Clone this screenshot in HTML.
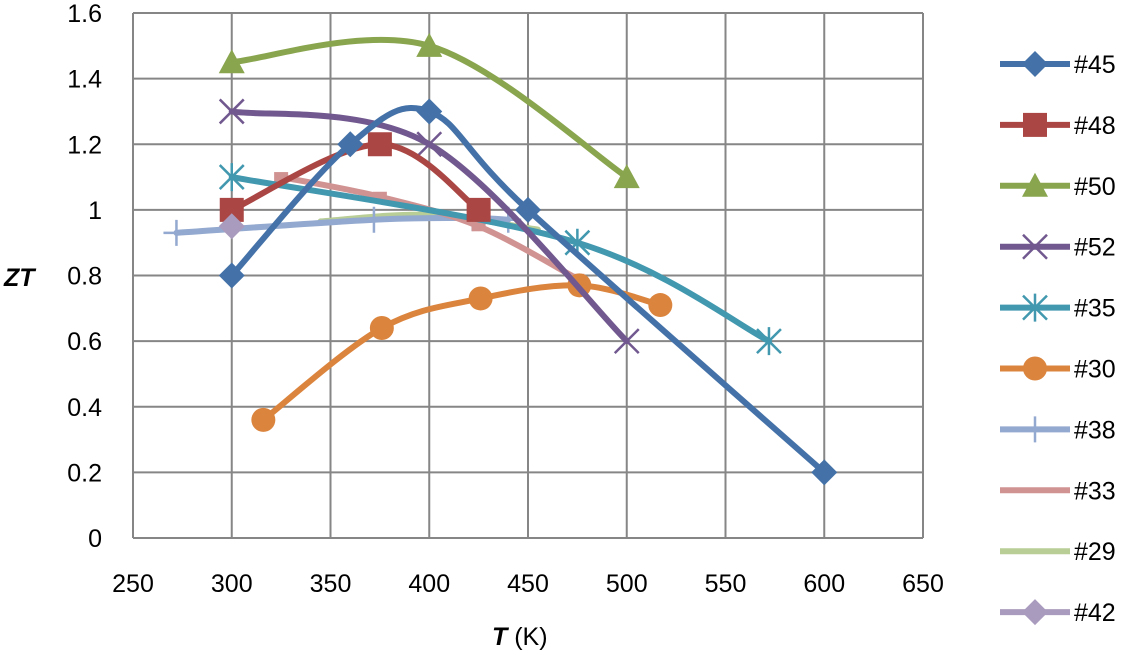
<!DOCTYPE html>
<html><head><meta charset="utf-8"><style>
body{margin:0;background:#fff;width:1127px;height:658px;overflow:hidden}
svg text{font-family:"Liberation Sans",sans-serif;font-size:25px;fill:#000}
</style></head><body>
<svg id="c" width="1127" height="658"></svg>
<script>
const xTicks=[250,300,350,400,450,500,550,600,650];
const yTicks=[0,0.2,0.4,0.6,0.8,1,1.2,1.4,1.6];
const names=["#45","#48","#50","#52","#35","#30","#38","#33","#29","#42"];
const colors=["#4472a8","#aa4643","#89a54e","#71588f","#4198af","#db843d","#93a9cf","#d19392","#b9cd96","#a99bbd"];
const markers=["diamond","square","triangle","x","star","circle","plus","smallsq","none","diamond"];
const t45=[300,360,400,450,600], z45=[0.8,1.2,1.3,1.0,0.2];
const t48=[300,375,425], z48=[1.0,1.2,1.0];
const t50=[300,400,500], z50=[1.45,1.5,1.1];
const t52=[300,400,500], z52=[1.3,1.2,0.6];
const t35=[300,475,572], z35=[1.1,0.9,0.6];
const t30=[316,376,426,476,517], z30=[0.36,0.64,0.73,0.77,0.71];
const t38=[272,372,422,440], z38=[0.93,0.97,0.975,0.97];
const t33=[325,375,425,475], z33=[1.1,1.04,0.95,0.79];
const t29=[345,400,455], z29=[0.965,0.985,0.94];
const t42=[300], z42=[0.95];
const TS=[t45,t48,t50,t52,t35,t30,t38,t33,t29,t42], ZS=[z45,z48,z50,z52,z35,z30,z38,z33,z29,z42];
const X0=133,X1=923,Y0=538,Y1=13;
const xs=v=>X0+(v-250)/400*(X1-X0), ys=v=>Y0-v/1.6*(Y0-Y1);
const svg=document.getElementById('c'),NS='http://www.w3.org/2000/svg';
function mk(tag,a,p){const e=document.createElementNS(NS,tag);for(const k in a)e.setAttribute(k,a[k]);(p||svg).appendChild(e);return e;}
xTicks.forEach(v=>{const l=mk('line',{x1:xs(v),x2:xs(v),y1:Y1,y2:Y0,stroke:'#868686','stroke-width':2});

const t=mk('text',{x:xs(v),y:592,'text-anchor':'middle'});t.textContent=v;
});
yTicks.forEach(v=>{const l=mk('line',{x1:X0,x2:X1,y1:ys(v),y2:ys(v),stroke:'#868686','stroke-width':2});

const t=mk('text',{x:102,y:ys(v)+9,'text-anchor':'end'});t.textContent=(v===0||v===1)?v:v.toFixed(1);
});
function path(P){if(P.length<2)return'';let d=`M${P[0][0]},${P[0][1]}`;for(let i=0;i<P.length-1;i++){const p0=P[i-1]||P[i],p1=P[i],p2=P[i+1],p3=P[i+2]||p2;
d+=` C${p1[0]+(p2[0]-p0[0])/6},${p1[1]+(p2[1]-p0[1])/6} ${p2[0]-(p3[0]-p1[0])/6},${p2[1]-(p3[1]-p1[1])/6} ${p2[0]},${p2[1]}`;}return d;}
function marker(type,x,y,c,g){
if(type==='diamond')return mk('polygon',{points:`${x},${y-13} ${x+13},${y} ${x},${y+13} ${x-13},${y}`,fill:c},g);
if(type==='square')return mk('rect',{x:x-12,y:y-12,width:24,height:24,fill:c},g);
if(type==='smallsq')return mk('rect',{x:x-7,y:y-5,width:14,height:10,fill:c},g);
if(type==='triangle')return mk('polygon',{points:`${x},${y-13} ${x+13},${y+11} ${x-13},${y+11}`,fill:c},g);
if(type==='circle')return mk('circle',{cx:x,cy:y,r:12,fill:c},g);
if(type==='x')return mk('path',{d:`M${x-12},${y-12}L${x+12},${y+12}M${x+12},${y-12}L${x-12},${y+12}`,stroke:c,'stroke-width':2.5},g);
if(type==='plus')return mk('path',{d:`M${x-13},${y}L${x+13},${y}M${x},${y-13}L${x},${y+13}`,stroke:c,'stroke-width':2.5},g);
if(type==='star')return mk('path',{d:`M${x-12},${y-12}L${x+12},${y+12}M${x+12},${y-12}L${x-12},${y+12}M${x},${y-14}L${x},${y+14}`,stroke:c,'stroke-width':2.5},g);}
const order=[8,6,7,5,4,3,1,0,2,9];
order.forEach(i=>{const g=mk('g',{});
const P=TS[i].map((t,j)=>[xs(t),ys(ZS[i][j])]);
const p=mk('path',{d:path(P),fill:'none',stroke:colors[i],'stroke-width':6,'stroke-linecap':'round'},g);

if(markers[i]!=='none')P.forEach(q=>{const m=marker(markers[i],q[0],q[1],colors[i],g);});});
names.forEach((n,i)=>{const y=64+i*60.9;const g=mk('g',{});
mk('line',{x1:1000,x2:1070,y1:y,y2:y,stroke:colors[i],'stroke-width':6},g);
if(markers[i]!=='none'&&markers[i]!=='smallsq')marker(markers[i],1035,y,colors[i],g);
const t=mk('text',{x:1074,y:y+9},g);t.textContent=n;});
const yl=mk('text',{x:4,y:286,'font-weight':'bold','font-style':'italic','font-size':27});yl.textContent='ZT';

const xl=mk('text',{x:492,y:645,'font-size':27});xl.innerHTML='<tspan font-weight="bold" font-style="italic">T</tspan> (K)';

</script></body></html>
